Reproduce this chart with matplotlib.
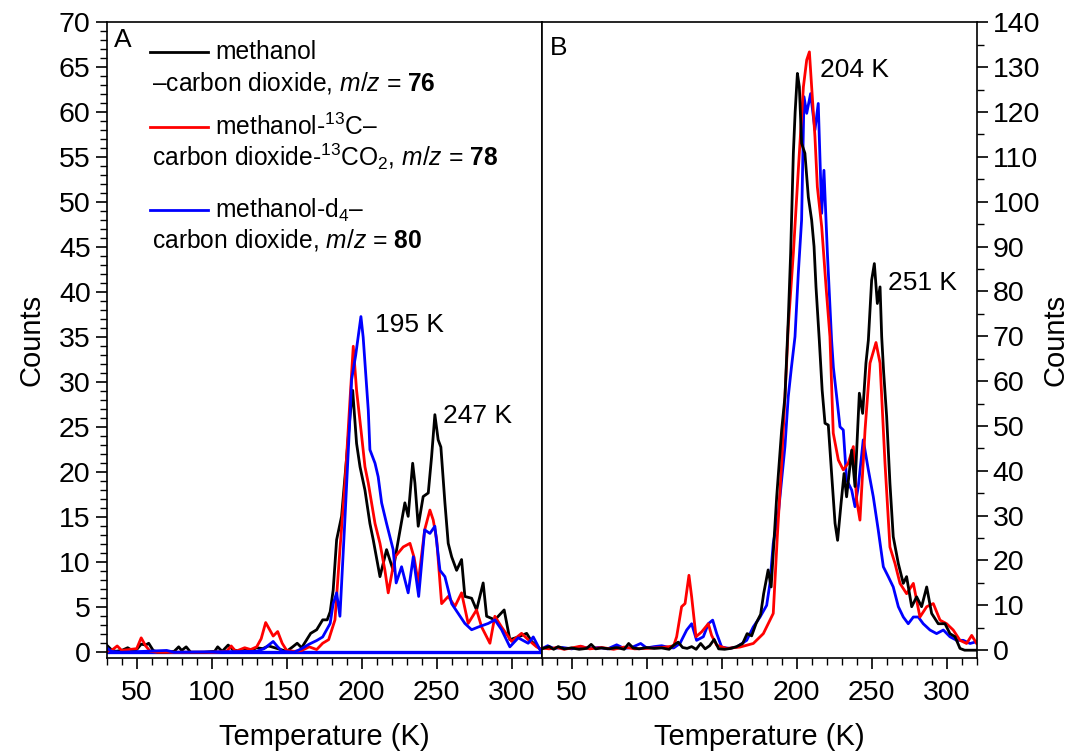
import matplotlib
matplotlib.use("Agg")
import matplotlib.pyplot as plt
from matplotlib.lines import Line2D
from matplotlib.ticker import MultipleLocator

plt.rcParams["font.family"] = ["Liberation Sans", "DejaVu Sans"]
plt.rcParams["mathtext.fontset"] = "custom"
plt.rcParams["mathtext.rm"] = "Liberation Sans"
plt.rcParams["mathtext.it"] = "Liberation Sans:italic"
plt.rcParams["mathtext.bf"] = "Liberation Sans:bold"

# (temperature K, counts)
# panel A
black_a = [(30, 0.8), (33, 0.3), (36, 0.1), (40, 0.2), (44, 0.5), (47, 0.2), (50, 0.3), (53, 0.9),
           (56, 0.8), (58, 1.0), (61, 0.2), (64, 0), (70, 0), (75, 0.1), (78, 0.6), (80, 0.2),
           (83, 0.6), (86, 0), (95, 0), (102, 0.1), (104, 0.6), (107, 0.1), (111, 0.8), (114, 0.3),
           (118, 0.1), (122, 0.4), (126, 0.2), (130, 0.5), (134, 0.4), (138, 0.7), (142, 0.5),
           (146, 0.3), (150, 0.1), (154, 0.6), (157, 1.0), (160, 0.5), (163, 1.3), (166, 2.1),
           (170, 2.5), (174, 3.6), (177, 3.6), (179, 4.5), (181, 6.9), (183.3, 12.5), (186.6, 15.1),
           (190, 21.7), (192.2, 26.2), (194, 29.1), (196.6, 23.2), (198.9, 20.6), (202.2, 18.0),
           (205.5, 14.3), (207.7, 12.5), (212.2, 8.4), (216.6, 11.4), (221, 9.1), (223.3, 11.4),
           (228.8, 16.6), (231, 15.1), (234, 21.0), (235.5, 18.8), (237.7, 14.0), (241, 17.3),
           (244.4, 17.7), (246.6, 21.7), (248.8, 26.4), (251, 23.6), (252.8, 22.8), (255.5, 16.6),
           (257.7, 12.1), (260, 10.6), (263.3, 9.1), (266.6, 10.3), (268.8, 6.2), (273.3, 6.0),
           (276.6, 4.7), (281, 7.7), (283.3, 4.0), (288.8, 3.6), (295, 4.7), (298.8, 1.4),
           (304.4, 1.7), (310, 2.1), (313.3, 1.2), (318.8, 0.4), (320, 0.2)]
red_a = [(30, 0.1), (34, 0.3), (37, 0.7), (40, 0.2), (45, 0.3), (50, 0.4), (53, 1.6), (56, 0.7),
         (59, 0.1), (64, 0), (100, 0), (110, 0.1), (113, 0.7), (116, 0.1), (122, 0.5), (126, 0.3),
         (130, 0.6), (133, 1.5), (136, 3.3), (139, 2.4), (141, 1.8), (144, 2.3), (147, 1.0),
         (150, 0.2), (155, 0.1), (160, 0.2), (165, 0.6), (170, 0.3), (174, 1.0), (178, 1.4),
         (182.2, 3.6), (185.5, 11.4), (188.9, 18.8), (192.2, 28), (194.4, 34), (196.6, 29.1),
         (200, 24), (202.2, 20.6), (204.4, 18.8), (208.9, 14.3), (212.2, 12.1), (215.5, 9.1),
         (217.7, 6.6), (222.2, 10.6), (227.7, 11.7), (232.2, 12.1), (235, 10.5), (237.7, 7.7),
         (242, 13.6), (245.5, 15.8), (247.7, 14.7), (250, 12.5), (253.3, 5.4), (257.7, 6.2),
         (262.2, 5.1), (266.6, 6.6), (271, 3.2), (276.6, 4.7), (280, 2.8), (285.5, 1.0),
         (288.8, 4.0), (293.3, 2.8), (300, 1.2), (306.6, 2.1), (311, 1.4), (316.6, 0.6), (320, 0.3)]
blue_a = [(30, 0.5), (33, 0.1), (40, 0), (70, 0.2), (75, 0), (130, 0.1), (135, 0.4), (138, 0.8),
          (141, 1.2), (144, 0.6), (147, 0.1), (155, 0), (160, 0.4), (165, 0.9), (170, 1.3),
          (174, 1.7), (179, 3.2), (181, 5.4), (183.3, 6.6), (185.5, 4.0), (188.9, 15), (192.2, 26.2),
          (193.3, 30.3), (196, 33), (199.5, 37.3), (201, 35), (204.4, 26.9), (205.5, 22.5),
          (208.9, 21), (211, 19.5), (213.3, 16.6), (216.6, 14.3), (221, 11.4), (223, 7.7),
          (226.6, 9.5), (231, 6.6), (234.4, 10.6), (238, 6.2), (242, 13.6), (245.5, 13.2),
          (248.8, 14), (252.2, 9.1), (255.5, 8.4), (260, 5.4), (264.4, 4.3), (268.8, 3.2),
          (273.3, 2.5), (277.7, 2.8), (284.4, 3.2), (288.8, 3.6), (293.3, 2.5), (298.8, 0.6),
          (304.4, 1.6), (311, 1.0), (314.4, 1.7), (318.8, 0.3), (320, 0)]

# panel B
black_b = [(30, 0.3), (35, 0.8), (38, 0.2), (41, 0.8), (45, 0.3), (50, 0.5), (55, 0.2), (60, 0.4),
           (63, 1.3), (66, 0.3), (70, 0.5), (75, 0.3), (80, 0.6), (85, 0.2), (88, 1.5), (91, 0.5),
           (95, 0.3), (100, 0.6), (105, 0.4), (110, 0.5), (115, 0.2), (118, 1.1), (121, 1.8),
           (124, 0.6), (127, 0.4), (130, 0.8), (133, 0.2), (136, 1.5), (139, 0.3), (142, 1.0),
           (145, 2.4), (148, 0.3), (152, 0.2), (156, 0.4), (160, 0.8), (164, 1.5), (167, 3.7),
           (170, 3.2), (173, 6), (176, 8), (178, 12.6), (181, 17.9), (183, 14.1), (186.7, 34.2),
           (190, 49.1), (192.2, 56.5), (194.4, 73.6), (196, 88.5), (197.8, 110.8), (199, 120),
           (200.5, 128.6), (201.8, 125.6), (203.3, 113), (205.5, 110.8), (207.8, 101), (210, 95.9),
           (211.6, 90), (212.9, 81), (215.1, 69.1), (217, 58), (218.9, 50.6), (221.1, 50.2),
           (223.3, 39.4), (225.6, 28.3), (227.3, 24.5), (229.6, 32.7), (231.6, 39.4), (233.3, 34.2),
           (236.7, 44.6), (238.9, 36.5), (241.8, 57.3), (244, 52.8), (246.2, 64), (247.8, 69.1),
           (250, 82.5), (251.8, 86.2), (253.8, 77.3), (255.6, 81), (256.7, 69.9), (258, 62),
           (260, 52.1), (262.2, 37.2), (264.4, 25.3), (267.8, 19.3), (271.1, 14.9), (273.3, 16.4),
           (276.7, 9.7), (280, 11.9), (283.3, 9.7), (286.7, 14.1), (290, 8.2), (294.4, 5.9),
           (298.9, 5.9), (302.2, 3.7), (305.6, 3.0), (308.9, 0.4), (312, 0), (320, 0)]
red_b = [(30, 0.5), (35, 0.3), (40, 0.6), (45, 0.2), (50, 0.5), (56, 0.9), (62, 0.3), (70, 0.6),
         (78, 0.2), (85, 0.7), (92, 0.3), (100, 0.4), (110, 0.6), (115, 0.8), (118, 1.0), (120, 3),
         (123.3, 9.7), (125.6, 10.4), (128.2, 16.7), (130, 11.9), (132.9, 3), (136.7, 4.1),
         (141.1, 5.9), (143.3, 3.3), (146.7, 1.1), (153.3, 0.4), (162.2, 0.7), (171.1, 1.5),
         (177.8, 3.7), (184.4, 8.2), (187.1, 25.3), (190, 41.7), (193.3, 64), (194.4, 72.1),
         (197.8, 88.5), (201.1, 107), (204.5, 125.6), (206.7, 131.6), (208.5, 133.4), (210, 125.6),
         (212.2, 114.5), (213.8, 103.3), (216.7, 94.4), (219.6, 81), (222.2, 69.9), (224.4, 48.4),
         (227.8, 42.4), (231.1, 40.2), (234.4, 41.7), (237.8, 45.4), (240, 33.5), (242.2, 29),
         (245.6, 49.1), (248.9, 64), (252.9, 68.6), (255.6, 64), (258.9, 41.7), (262.2, 23),
         (265.6, 19.3), (268.9, 14.9), (273.3, 12.6), (277.8, 14.9), (282.2, 7.4), (286.7, 9.7),
         (291.1, 10.4), (295.6, 6.7), (300, 5.9), (304.4, 4.5), (308.9, 2.2), (313.3, 1.5),
         (316.7, 3.3), (320, 1.5)]
blue_b = [(30, 0.3), (34, 1.0), (38, 0.4), (44, 0.6), (50, 0.3), (56, 0.8), (62, 0.4), (68, 0.6),
          (74, 0.3), (80, 1.2), (85, 0.4), (90, 0.6), (96, 1.5), (100, 0.5), (105, 0.8), (110, 1.0),
          (115, 0.6), (118, 0.5), (122.2, 1.5), (126.7, 4.5), (130, 5.9), (133.3, 2.2), (137.8, 3.0),
          (141.1, 5.9), (144, 6.7), (146.7, 3.7), (150, 0.7), (155, 0.4), (160, 0.7), (166.7, 2.2),
          (171.1, 5.2), (175.6, 7.4), (180, 10), (182.2, 14.9), (184.4, 23.8), (187.8, 30.5),
          (190, 38), (192.2, 45.4), (194.4, 56.5), (196.5, 63), (198.9, 69.9), (201.1, 84),
          (203.3, 95.9), (204.9, 123.4), (206.7, 119.7), (209.3, 124.1), (212.2, 116),
          (214.4, 121.9), (216.7, 97.4), (218.2, 107), (220.5, 88.5), (223.3, 69.1), (224.5, 63),
          (226.7, 56.5), (228.9, 49.8), (231.1, 49.1), (233.3, 38), (236.7, 35.7), (238.9, 32),
          (241.1, 36.5), (244.4, 46.9), (247.8, 40.2), (251.1, 34.2), (254.4, 26.8), (257.8, 18.6),
          (261.1, 16.4), (264.4, 14.1), (267.8, 9.7), (271.1, 7.4), (274.4, 5.9), (277.8, 7.4),
          (281.1, 7.4), (284.4, 5.9), (288.9, 4.5), (293.3, 3.7), (297.8, 4.5), (302.2, 3.0),
          (306.7, 2.2), (311.1, 2.2), (315.6, 1.5), (320, 1.9)]

peaks_a = [(209, 36.4, "195 K"), (254, 26.2, "247 K")]
peaks_b = [(215.5, 129.3, "204 K"), (261, 81.8, "251 K")]

legend_labels = [
    ("black", "methanol", "–carbon dioxide, $\\mathit{m/z}$ = $\\mathbf{76}$"),
    ("#ff0000", "methanol-$^{13}$C–", "carbon dioxide-$^{13}$CO$_2$, $\\mathit{m/z}$ = $\\mathbf{78}$"),
    ("#0000ff", "methanol-d$_4$–", "carbon dioxide, $\\mathit{m/z}$ = $\\mathbf{80}$"),
]

LW = 2.0
TICK_FS = 20.5
LABEL_FS = 21

fig = plt.figure(figsize=(10.69, 7.53), dpi=100)
ax1 = fig.add_axes([0.0998, 0.1258, 0.4069, 0.8446])
ax2 = fig.add_axes([0.5067, 0.1258, 0.4069, 0.8446])


def xy(pairs):
    return [p[0] for p in pairs], [p[1] for p in pairs]


ax1.axhline(0, color="#0000ff", lw=2.4, zorder=1)
for data, col in [(black_a, "black"), (red_a, "#ff0000"), (blue_a, "#0000ff")]:
    x, y = xy(data)
    ax1.plot(x, y, color=col, lw=LW)

for data, col in [(blue_b, "#0000ff"), (red_b, "#ff0000"), (black_b, "black")]:
    x, y = xy(data)
    ax2.plot(x, y, color=col, lw=LW)

for ax in (ax1, ax2):
    ax.set_xlim(30, 320)
    ax.xaxis.set_major_locator(MultipleLocator(50))
    ax.xaxis.set_minor_locator(MultipleLocator(10))
    ax.set_xlabel("Temperature (K)", fontsize=LABEL_FS, labelpad=12)
    ax.tick_params(axis="both", which="major", direction="out", length=8, width=1.2,
                   labelsize=TICK_FS)
    ax.tick_params(axis="x", which="major", pad=8)
    ax.tick_params(axis="both", which="minor", direction="out", length=5, width=1.0)
    for s in ax.spines.values():
        s.set_linewidth(1.2)

ax1.set_ylim(-0.67, 70)
ax1.yaxis.set_major_locator(MultipleLocator(5))
ax1.yaxis.set_minor_locator(MultipleLocator(1))
ax1.set_ylabel("Counts", fontsize=LABEL_FS, labelpad=10)

ax2.set_ylim(-1.8, 140)
ax2.yaxis.set_major_locator(MultipleLocator(10))
ax2.yaxis.set_minor_locator(MultipleLocator(5))
ax2.yaxis.tick_right()
ax2.yaxis.set_label_position("right")
ax2.set_ylabel("Counts", fontsize=LABEL_FS, rotation=90, labelpad=1)

for x, y, t in peaks_a:
    ax1.text(x, y, t, fontsize=19, va="center", ha="left")
for x, y, t in peaks_b:
    ax2.text(x, y, t, fontsize=19, va="center", ha="left")

ax1.text(0.017, 0.972, "A", transform=ax1.transAxes, fontsize=19, va="center", ha="left")
ax2.text(0.019, 0.959, "B", transform=ax2.transAxes, fontsize=19, va="center", ha="left")

# legend drawn by hand: sample line on first row, wrapped text on second
rows = [(0.953, 0.905), (0.835, 0.788), (0.705, 0.658)]
for (col, first, second), (y1, y2) in zip(legend_labels, rows):
    ax1.add_line(Line2D([0.0996, 0.233], [y1, y1], transform=ax1.transAxes, color=col, lw=LW))
    ax1.text(0.249, y1, first, transform=ax1.transAxes, fontsize=17.7, va="center", ha="left")
    ax1.text(0.104, y2, second, transform=ax1.transAxes, fontsize=17.7, va="center", ha="left")

fig.savefig("out.png", dpi=100)
